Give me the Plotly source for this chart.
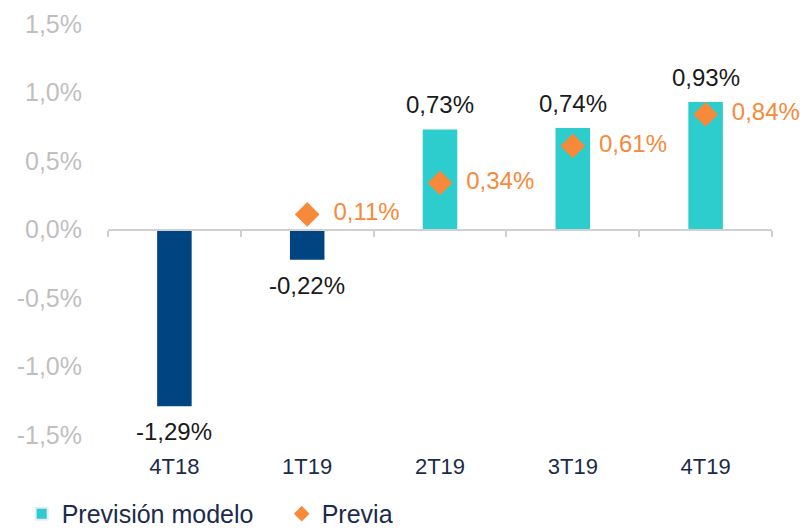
import plotly.graph_objects as go

categories = ["4T18", "1T19", "2T19", "3T19", "4T19"]
modelo = [-1.29, -0.22, 0.73, 0.74, 0.93]
previa_cats = ["1T19", "2T19", "3T19", "4T19"]
previa = [0.11, 0.34, 0.61, 0.84]
y_ticks = [-1.5, -1.0, -0.5, 0.0, 0.5, 1.0, 1.5]
y_ticklabels = ["-1,5%", "-1,0%", "-0,5%", "0,0%", "0,5%", "1,0%", "1,5%"]

NAVY = "#004481"
TEAL = "#2DCCCD"
ORANGE = "#F7893B"
TXT = "#1C2B4B"
FONT = "Liberation Sans, Arial, sans-serif"

def fmt(v):
    return f"{v:.2f}".replace(".", ",") + "%"

bar_colors = [NAVY if v < 0 else TEAL for v in modelo]

fig = go.Figure()
fig.add_trace(go.Bar(
    x=categories, y=modelo, name="Previsión modelo",
    marker=dict(color=bar_colors, line=dict(width=0)),
    width=0.26, showlegend=False,
))
fig.add_trace(go.Bar(
    x=[None], y=[None], name="Previsión modelo",
    marker=dict(color=TEAL), showlegend=True,
))
fig.add_trace(go.Scatter(
    x=previa_cats, y=previa, name="Previa", mode="markers+text",
    marker=dict(symbol="diamond", size=19, color=ORANGE),
    text=["  " + fmt(v) for v in previa], textposition="middle right",
    textfont=dict(color=ORANGE, size=24, family=FONT),
    cliponaxis=False,
))

for c, v in zip(categories, modelo):
    fig.add_annotation(
        x=c, y=v, text=fmt(v), showarrow=False,
        yanchor="bottom" if v >= 0 else "top",
        yshift=9 if v >= 0 else -10,
        font=dict(color="#1a1a1a", size=24, family=FONT),
    )

fig.update_layout(
    width=800, height=530,
    margin=dict(l=108, r=28, t=24, b=95, autoexpand=False),
    plot_bgcolor="white", paper_bgcolor="white",
    barmode="overlay",
    font=dict(family=FONT),
    legend=dict(
        orientation="h", xref="paper", yref="paper",
        x=-0.13, y=-0.192, xanchor="left", yanchor="middle",
        font=dict(size=25, color=TXT), itemsizing="constant",
        traceorder="normal", entrywidth=215, entrywidthmode="pixels",
    ),
    xaxis=dict(
        type="category", categoryorder="array", categoryarray=categories,
        range=[-0.5, 4.5], showline=False, showgrid=False, zeroline=False,
        ticks="outside", ticklen=12, tickcolor="rgba(0,0,0,0)",
        tickfont=dict(size=22, color=TXT), automargin=False,
    ),
    xaxis2=dict(
        overlaying="x", anchor="free", position=0.5, side="bottom",
        range=[-0.5, 4.5], showline=True, linecolor="#D0D0D0", linewidth=2,
        ticks="outside", ticklen=6, tickcolor="#D0D0D0", tickwidth=2,
        tickvals=[-0.5, 0.5, 1.5, 2.5, 3.5, 4.5], showticklabels=False,
        showgrid=False, zeroline=False, automargin=False,
    ),
    yaxis=dict(
        range=[-1.5, 1.5], tickvals=y_ticks, ticktext=y_ticklabels,
        showgrid=False, zeroline=False, showline=False,
        ticks="outside", ticklen=20, tickcolor="rgba(0,0,0,0)",
        tickfont=dict(size=25, color="#BFBFBF"), automargin=False,
    ),
)
fig.add_trace(go.Scatter(x=[None], y=[None], xaxis="x2", showlegend=False, hoverinfo="skip"))

fig.write_html(
    "out.html",
    config={"displayModeBar": False},
    post_script="document.body.style.margin='0';document.body.style.padding='0';",
)
